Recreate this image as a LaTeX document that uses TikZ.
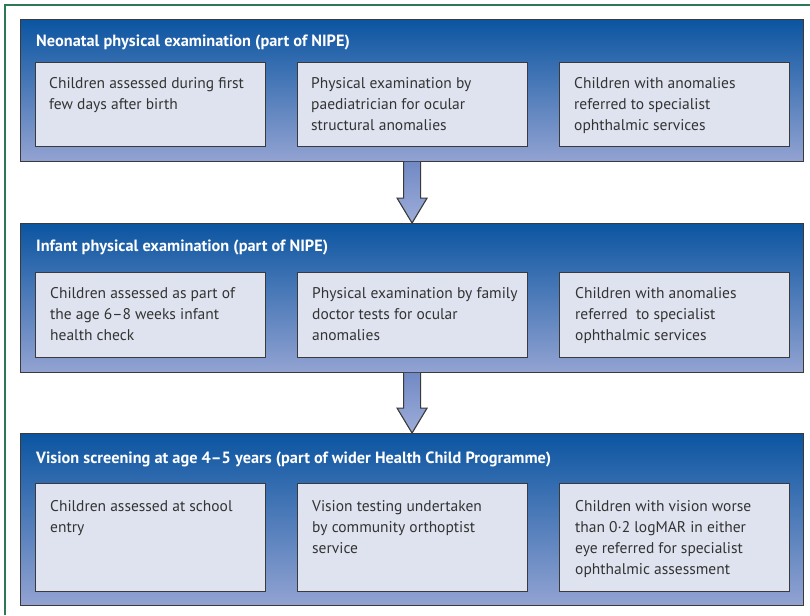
\documentclass[tikz,border=0pt]{standalone}
\usepackage{fontspec}
\setmainfont{PT Sans}
\usetikzlibrary{calc}
\definecolor{framegreen}{HTML}{2B7A55}
\definecolor{ptop}{HTML}{0B55A1}
\definecolor{pbot}{HTML}{93A3D2}
\definecolor{boxfill}{HTML}{DEE3EF}
\definecolor{edge}{HTML}{3A3A3A}
\definecolor{txt}{HTML}{333333}
\definecolor{atop}{HTML}{7189C4}
\definecolor{abot}{HTML}{9DADD9}
\tikzset{
  panel/.style={rectangle, draw=edge, line width=1.1pt, top color=ptop, bottom color=pbot,
    minimum width=783pt, anchor=north west, inner sep=0pt},
  stepbox/.style={rectangle, draw=edge, line width=1.1pt, fill=boxfill,
    minimum width=230pt, anchor=north west, inner sep=0pt},
  ptitle/.style={anchor=base west, inner sep=0pt, text=white, font=\fontsize{16.3}{21}\selectfont\bfseries},
  btext/.style={anchor=north west, inner sep=0pt, text=txt, align=left,
    font=\fontsize{15.5}{21}\selectfont},
  arrowfill/.style={top color=atop, bottom color=abot},
  arrowline/.style={draw=edge, line width=1.1pt, line join=miter}
}
\begin{document}
\begin{tikzpicture}[x=1pt,y=-1pt]
\useasboundingbox (0,0) rectangle (810,615);
% outer frame
\coordinate (fa) at (810,5);
\coordinate (fb) at (5,5);
\coordinate (fc) at (5,615);
\draw[framegreen, line width=1.2pt] (fa) -- (fb) -- (fc);

% panels
\node[panel, minimum height=142pt] (p1) at (20,19) {};
\node[panel, minimum height=149pt] (p2) at (20,223) {};
\node[panel, minimum height=172pt] (p3) at (20,433) {};

% titles
\node[ptitle] (t1) at (36,47) {Neonatal physical examination (part of NIPE)};
\node[ptitle] (t2) at (36,251) {Infant physical examination (part of NIPE)};
\node[ptitle] (t3) at (36,463) {Vision screening at age 4–5 years (part of wider Health Child Programme)};

% boxes panel 1
\node[stepbox, minimum height=84pt] (a1) at (35,62) {};
\node[stepbox, minimum height=84pt] (a2) at (297,62) {};
\node[stepbox, minimum height=84pt] (a3) at (559,62) {};
% boxes panel 2
\node[stepbox, minimum height=85pt] (b1) at (35,272) {};
\node[stepbox, minimum height=85pt] (b2) at (297,272) {};
\node[stepbox, minimum height=85pt] (b3) at (559,272) {};
% boxes panel 3
\node[stepbox, minimum height=108pt] (c1) at (35,483) {};
\node[stepbox, minimum height=108pt] (c2) at (297,483) {};
\node[stepbox, minimum height=108pt] (c3) at (559,483) {};

% box texts
\node[btext] (a1t) at ($(a1.north west)+(14,15)$) {Children assessed during first\\few days after birth};
\node[btext] (a2t) at ($(a2.north west)+(14,15)$) {Physical examination by\\paediatrician for ocular\\structural anomalies};
\node[btext] (a3t) at ($(a3.north west)+(15,15)$) {Children with anomalies\\referred to specialist\\ophthalmic services};

\node[btext] (b1t) at ($(b1.north west)+(15,15)$) {Children assessed as part of\\the age 6–8 weeks infant\\health check};
\node[btext] (b2t) at ($(b2.north west)+(15,15)$) {Physical examination by family\\doctor tests for ocular\\anomalies};
\node[btext] (b3t) at ($(b3.north west)+(16,15)$) {Children with anomalies\\referred\ \ to specialist\\ophthalmic services};

\node[btext] (c1t) at ($(c1.north west)+(15,17)$) {Children assessed at school\\entry};
\node[btext] (c2t) at ($(c2.north west)+(15,17)$) {Vision testing undertaken\\by community orthoptist\\service};
\node[btext] (c3t) at ($(c3.north west)+(16,17)$) {Children with vision worse\\than 0·2 logMAR in either\\eye referred for specialist\\ophthalmic assessment};

% block arrows
\fill[arrowfill] ($(p1.south)+(-8.5,-0.6)$) -- ($(p1.south)+(-8.5,36)$) -- ($(p1.south)+(-15,36)$) -- (p2.north)
  -- ($(p1.south)+(15,36)$) -- ($(p1.south)+(8.5,36)$) -- ($(p1.south)+(8.5,-0.6)$) -- cycle;
\draw[arrowline] ($(p1.south)+(-8.5,0)$) -- ($(p1.south)+(-8.5,36)$) -- ($(p1.south)+(-15,36)$) -- (p2.north)
  -- ($(p1.south)+(15,36)$) -- ($(p1.south)+(8.5,36)$) -- ($(p1.south)+(8.5,0)$);

\fill[arrowfill] ($(p2.south)+(-8.5,-0.6)$) -- ($(p2.south)+(-8.5,35)$) -- ($(p2.south)+(-15,35)$) -- (p3.north)
  -- ($(p2.south)+(15,35)$) -- ($(p2.south)+(8.5,35)$) -- ($(p2.south)+(8.5,-0.6)$) -- cycle;
\draw[arrowline] ($(p2.south)+(-8.5,0)$) -- ($(p2.south)+(-8.5,35)$) -- ($(p2.south)+(-15,35)$) -- (p3.north)
  -- ($(p2.south)+(15,35)$) -- ($(p2.south)+(8.5,35)$) -- ($(p2.south)+(8.5,0)$);
\end{tikzpicture}
\end{document}
